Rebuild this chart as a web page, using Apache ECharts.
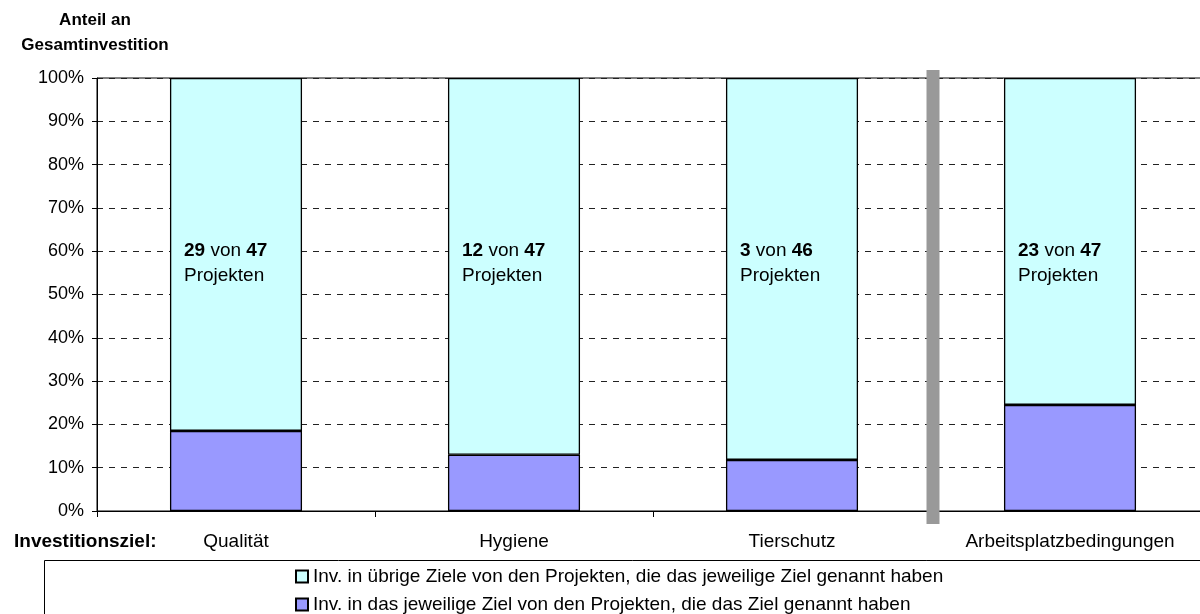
<!DOCTYPE html>
<html>
<head>
<meta charset="utf-8">
<script src="https://cdn.jsdelivr.net/npm/echarts@6/dist/echarts.min.js"></script>
<style>
  html, body { margin: 0; padding: 0; background: #fff; overflow: hidden; }
  #chart { width: 1220px; height: 614px; }
</style>
</head>
<body>
<div id="chart"></div>
<script>
// Investitionsziele und Anteile an der Gesamtinvestition
const categories = ['Qualität', 'Hygiene', 'Tierschutz', 'Arbeitsplatzbedingungen'];
const shareGoal = [0.185, 0.130, 0.118, 0.245];   // Inv. in das jeweilige Ziel
const shareOther = [0.815, 0.870, 0.882, 0.755];  // Inv. in übrige Ziele
const projectsNamed = [29, 12, 3, 23];
const projectsTotal = [47, 47, 46, 47];
const yTicks = [0, 0.1, 0.2, 0.3, 0.4, 0.5, 0.6, 0.7, 0.8, 0.9, 1.0];

const nameOther = 'Inv. in übrige Ziele von den Projekten, die das jeweilige Ziel genannt haben';
const nameGoal = 'Inv. in das jeweilige Ziel von den Projekten, die das Ziel genannt haben';

const FONT = 'Arial, "Liberation Sans", sans-serif';

// the canvas is slightly wider than the window so the plot runs past the right edge
const chart = echarts.init(document.getElementById('chart'), null, { renderer: 'canvas' });

const option = {
  animation: false,
  backgroundColor: '#ffffff',
  textStyle: { fontFamily: FONT, color: '#000' },
  title: {
    text: 'Investitionsziel:',
    left: 9,
    top: 527,
    textStyle: { fontFamily: FONT, fontSize: 19, fontWeight: 'bold', color: '#000' }
  },
  grid: {
    left: 97, top: 78, width: 1112, height: 433,
    show: true, borderColor: '#000', borderWidth: 1, backgroundColor: 'transparent'
  },
  legend: {
    orient: 'vertical',
    left: 295,
    top: 567,
    height: 120,
    padding: 0,
    icon: 'rect',
    itemWidth: 12,
    itemHeight: 12,
    itemGap: 9,
    data: [nameOther, nameGoal],
    textStyle: { fontFamily: FONT, fontSize: 19, color: '#000', lineHeight: 19 }
  },
  xAxis: {
    type: 'category',
    data: categories,
    boundaryGap: true,
    axisLine: { lineStyle: { color: '#000', width: 1 } },
    axisTick: { show: true, inside: false, length: 6, lineStyle: { color: '#000' } },
    axisLabel: { margin: 21, fontFamily: FONT, fontSize: 19, color: '#000' },
    splitLine: { show: false }
  },
  yAxis: {
    type: 'value',
    min: 0,
    max: 1,
    interval: 0.1,
    name: 'Anteil an\nGesamtinvestition',
    nameLocation: 'end',
    nameGap: 20,
    nameTextStyle: {
      fontFamily: FONT, fontSize: 17, fontWeight: 'bold', color: '#000',
      lineHeight: 25, align: 'center', verticalAlign: 'bottom', padding: [0, 4, 0, 0]
    },
    axisLine: { show: true, lineStyle: { color: '#000', width: 1 } },
    axisTick: { show: true, inside: false, length: 5, lineStyle: { color: '#000' } },
    axisLabel: {
      margin: 13, fontFamily: FONT, fontSize: 18, color: '#000',
      formatter: function (v) {
        const hit = yTicks.find(t => Math.abs(t - v) < 1e-6);
        return Math.round((hit !== undefined ? hit : v) * 100) + '%';
      }
    },
    splitLine: { show: true, lineStyle: { color: '#222', width: 1, type: [6, 6] } }
  },
  series: [
    {
      name: nameGoal,
      type: 'bar',
      stack: 'anteil',
      barWidth: '47.5%',
      data: shareGoal,
      itemStyle: { color: '#9999ff', borderColor: '#000', borderWidth: 1.3 },
      label: { show: false }
    },
    {
      name: nameOther,
      type: 'bar',
      stack: 'anteil',
      barWidth: '47.5%',
      data: shareOther,
      itemStyle: { color: '#ccffff', borderColor: '#000', borderWidth: 1.3 },
      label: {
        show: true,
        position: [14, 160],
        align: 'left',
        verticalAlign: 'top',
        fontFamily: FONT,
        fontSize: 19,
        lineHeight: 25,
        color: '#000',
        formatter: function (p) {
          const i = p.dataIndex;
          return '{b|' + projectsNamed[i] + '} von {b|' + projectsTotal[i] + '}\nProjekten';
        },
        rich: {
          b: { fontFamily: FONT, fontSize: 19, fontWeight: 'bold', color: '#000', lineHeight: 25 }
        }
      }
    }
  ]
};

chart.setOption(option);

// Trennbalken zwischen Tierschutz und Arbeitsplatzbedingungen, Legendenrahmen
const xa = chart.convertToPixel({ xAxisIndex: 0 }, categories[2]);
const xb = chart.convertToPixel({ xAxisIndex: 0 }, categories[3]);
const sepX = (xa + xb) / 2 + 2;
const yTop = chart.convertToPixel({ yAxisIndex: 0 }, 1);
const yBottom = chart.convertToPixel({ yAxisIndex: 0 }, 0);

chart.setOption({
  graphic: [
    {
      type: 'rect',
      shape: { x: sepX - 6.5, y: yTop - 8, width: 13, height: (yBottom - yTop) + 21 },
      style: { fill: '#999999' },
      z: 100
    },
    {
      type: 'rect',
      shape: { x: 44.5, y: 560.5, width: 1220, height: 100 },
      style: { fill: 'none', stroke: '#000', lineWidth: 1 },
      z: 0
    }
  ]
});
</script>
</body>
</html>
